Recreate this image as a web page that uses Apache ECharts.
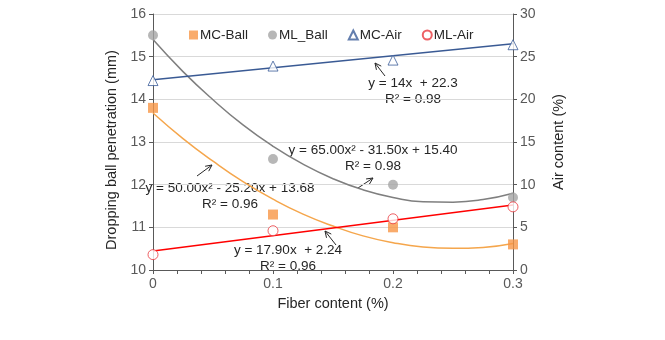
<!DOCTYPE html>
<html><head><meta charset="utf-8">
<script src="https://cdn.jsdelivr.net/npm/echarts@6/dist/echarts.min.js"></script>
<style>html,body{margin:0;padding:0;background:#fff}#c{width:665px;height:340px}</style>
</head><body><div id="c"></div>
<script>
// Data
const fiber = [0, 0.1, 0.2, 0.3];
const mcBall = [13.8, 11.3, 11.0, 10.6];
const mlBall = [15.5, 12.6, 12.0, 11.7];
const mcAir = [22.2, 23.9, 24.6, 26.4];
const mlAir = [1.8, 4.6, 6.0, 7.4];
// Trendline points (from the equations shown in the chart)
const trendX = [0, 0.025, 0.05, 0.075, 0.1, 0.125, 0.15, 0.175, 0.2, 0.225, 0.25, 0.275, 0.3];
const mcBallTrend = [13.68, 13.08, 12.55, 12.07, 11.66, 11.31, 11.03, 10.80, 10.64, 10.54, 10.51, 10.53, 10.62];
const mlBallTrend = [15.40, 14.65, 13.99, 13.40, 12.90, 12.48, 12.14, 11.88, 11.70, 11.60, 11.59, 11.65, 11.80];
const linX = [0, 0.3];
const mcAirTrend = [22.3, 26.5];
const mlAirTrend = [2.24, 7.61];
const xTicks = [0, 0.1, 0.2, 0.3];
const leftTicks = [10, 11, 12, 13, 14, 15, 16];
const rightTicks = [0, 5, 10, 15, 20, 25, 30];

const pairs = (xs, ys) => xs.map((x, i) => [x, ys[i]]);
const FONT = '"Liberation Sans", Arial, sans-serif';

function arrow(x1, y1, x2, y2) {
  const a = Math.atan2(y2 - y1, x2 - x1), L = 7, s = 0.45;
  const p1 = [x2 - L * Math.cos(a - s), y2 - L * Math.sin(a - s)];
  const p2 = [x2 - L * Math.cos(a + s), y2 - L * Math.sin(a + s)];
  const st = {stroke: '#262626', lineWidth: 1, fill: null};
  return {type: 'group', children: [
    {type: 'line', shape: {x1, y1, x2, y2}, style: st},
    {type: 'polyline', shape: {points: [p1, [x2, y2], p2]}, style: st}
  ]};
}
function label(x, y, t) {
  return {type: 'text', x, y, style: {text: t, font: '13.5px ' + FONT, fill: '#262626', textAlign: 'center', textVerticalAlign: 'middle'}};
}

const chart = echarts.init(document.getElementById('c'));
chart.setOption({
  animation: false,
  textStyle: {fontFamily: FONT},
  grid: {left: 153, right: 152, top: 14, bottom: 70},
  legend: {
    data: ['MC-Ball', 'ML_Ball', 'MC-Air', 'ML-Air'],
    left: 189, top: 28, itemWidth: 9, itemHeight: 9, itemGap: 20, padding: 0,
    textStyle: {fontSize: 13.5, color: '#262626', padding: [0, 0, 0, -3]}
  },
  xAxis: {
    type: 'value', min: 0, max: 0.3, interval: 0.1,
    name: 'Fiber content (%)', nameLocation: 'middle', nameGap: 26,
    nameTextStyle: {fontSize: 14.5, color: '#262626'},
    axisLine: {lineStyle: {color: '#595959'}},
    axisTick: {show: true, inside: false, length: 4, lineStyle: {color: '#595959'}},
    minorTick: {show: true, splitNumber: 5, length: 4, lineStyle: {color: '#595959'}},
    splitLine: {show: false},
    axisLabel: {fontSize: 14, color: '#595959', margin: 7, formatter: v => xTicks.includes(Math.round(v * 10) / 10) ? String(Math.round(v * 10) / 10) : ''}
  },
  yAxis: [{
    type: 'value', min: 10, max: 16, interval: 1,
    name: 'Dropping ball penetration (mm)', nameLocation: 'middle', nameGap: 30,
    nameTextStyle: {fontSize: 14.5, color: '#262626', padding: [0, 16, 0, 0]},
    axisLine: {show: true, lineStyle: {color: '#595959'}},
    axisTick: {show: true, length: 4, lineStyle: {color: '#595959'}},
    splitLine: {lineStyle: {color: '#D9D9D9'}},
    axisLabel: {fontSize: 14, color: '#595959', margin: 7, formatter: v => leftTicks.includes(v) ? String(v) : ''}
  }, {
    type: 'value', min: 0, max: 30, interval: 5, position: 'right',
    name: 'Air content (%)', nameLocation: 'middle', nameGap: 38,
    nameTextStyle: {fontSize: 14.5, color: '#262626'},
    axisLine: {show: true, lineStyle: {color: '#595959'}},
    axisTick: {show: true, length: 4, lineStyle: {color: '#595959'}},
    splitLine: {show: false},
    axisLabel: {fontSize: 14, color: '#595959', margin: 7, formatter: v => rightTicks.includes(v) ? String(v) : ''}
  }],
  series: [
    {name: 'MC-Ball trend', type: 'line', data: pairs(trendX, mcBallTrend), smooth: true, showSymbol: false,
     lineStyle: {color: '#F5A64C', width: 1.5}, z: 2, silent: true},
    {name: 'ML_Ball trend', type: 'line', data: pairs(trendX, mlBallTrend), smooth: true, showSymbol: false,
     lineStyle: {color: '#7F7F7F', width: 1.5}, z: 2, silent: true},
    {name: 'MC-Air trend', type: 'line', yAxisIndex: 1, data: pairs(linX, mcAirTrend), showSymbol: false,
     lineStyle: {color: '#3A5A94', width: 1.5}, z: 2, silent: true},
    {name: 'ML-Air trend', type: 'line', yAxisIndex: 1, data: pairs(linX, mlAirTrend), showSymbol: false,
     lineStyle: {color: '#FF0000', width: 1.5}, z: 2, silent: true},
    {name: 'MC-Ball', type: 'scatter', data: pairs(fiber, mcBall), symbol: 'rect', symbolSize: 10,
     itemStyle: {color: '#F79646'}, z: 5},
    {name: 'ML_Ball', type: 'scatter', data: pairs(fiber, mlBall), symbol: 'circle', symbolSize: 10,
     itemStyle: {color: '#A5A5A5'}, z: 5},
    {name: 'MC-Air', type: 'scatter', yAxisIndex: 1, data: pairs(fiber, mcAir), symbol: 'triangle', symbolSize: 10,
     itemStyle: {color: '#FFFFFF', borderColor: '#3C5E9A', borderWidth: 1}, z: 5},
    {name: 'ML-Air', type: 'scatter', yAxisIndex: 1, data: pairs(fiber, mlAir), symbol: 'circle', symbolSize: 10,
     itemStyle: {color: '#FFFFFF', borderColor: '#E8383D', borderWidth: 1}, z: 5}
  ],
  graphic: [
    label(413, 83, 'y = 14x  + 22.3'), label(413, 99, 'R² = 0.98'), arrow(385, 76, 375, 63),
    label(373, 150, 'y = 65.00x² - 31.50x + 15.40'), label(373, 166, 'R² = 0.98'), arrow(358, 188, 373, 178),
    label(230, 188, 'y = 50.00x² - 25.20x + 13.68'), label(230, 204, 'R² = 0.96'), arrow(197, 176, 212, 165),
    label(288, 250, 'y = 17.90x  + 2.24'), label(288, 266, 'R² = 0.96'), arrow(336, 245, 325, 231)
  ]
});
</script></body></html>
